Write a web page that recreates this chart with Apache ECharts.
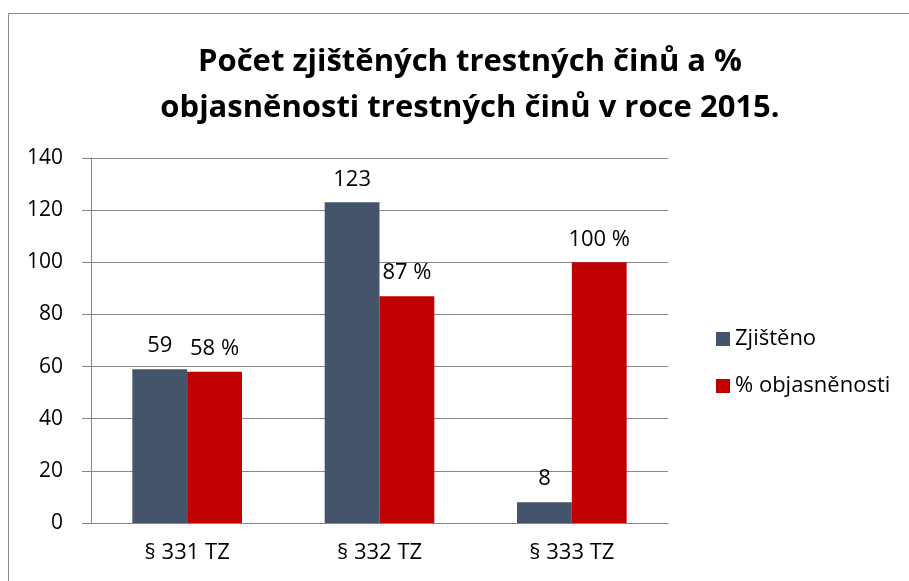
<!DOCTYPE html>
<html>
<head>
<meta charset="utf-8">
<script src="https://cdn.jsdelivr.net/npm/echarts@6/dist/echarts.min.js"></script>
<style>
  html, body { margin: 0; padding: 0; background: #fff; }
  #chart { width: 909px; height: 581px; }
</style>
</head>
<body>
<div id="chart"></div>
<script>
// data
const categories = ["§ 331 TZ", "§ 332 TZ", "§ 333 TZ"];
const zjisteno = [59, 123, 8];
const objasnenost = [58, 87, 100];
const yTicks = { min: 0, max: 140, interval: 20 };

const font = "'Open Sans', 'Liberation Sans', sans-serif";
var chart = echarts.init(document.getElementById("chart"));

chart.setOption({
    animation: false,
    title: {
        text: "Počet zjištěných trestných činů a %\nobjasněnosti trestných činů v roce 2015.",
        left: 465,
        textAlign: "center",
        top: 34,
        textStyle: {
            fontFamily: font,
            fontSize: 31,
            fontWeight: "bold",
            color: "#000",
            lineHeight: 46
        }
    },
    graphic: [{
        type: "rect",
        shape: { x: 8.5, y: 13.5, width: 1000, height: 1000 },
        style: { fill: "none", stroke: "#868686", lineWidth: 1 },
        silent: true
    }],
    legend: {
        orient: "vertical",
        left: 711,
        top: 323,
        itemWidth: 14,
        itemHeight: 14,
        itemGap: 25,
        icon: "rect",
        textStyle: { fontFamily: font, fontSize: 22, color: "#000" },
        data: ["Zjištěno", "% objasněnosti"]
    },
    grid: { left: 91, right: 241, top: 158, bottom: 58 },
    xAxis: {
        type: "category",
        data: categories,
        axisLine: { lineStyle: { color: "#868686" } },
        axisTick: { length: 9, lineStyle: { color: "#868686" } },
        axisLabel: { fontFamily: font, fontSize: 22, color: "#000", margin: 19 }
    },
    yAxis: {
        type: "value",
        min: yTicks.min,
        max: yTicks.max,
        interval: yTicks.interval,
        axisLine: { show: true, lineStyle: { color: "#868686" } },
        axisTick: { show: true, length: 9, lineStyle: { color: "#868686" } },
        splitLine: { lineStyle: { color: "#868686" } },
        axisLabel: { fontFamily: font, fontSize: 21, color: "#000", margin: 28 }
    },
    series: [
        {
            name: "Zjištěno",
            type: "bar",
            data: zjisteno,
            barGap: "0%",
            barCategoryGap: "43%",
            itemStyle: { color: "#44546A" },
            label: {
                show: true,
                position: "top",
                distance: 12,
                fontFamily: font,
                fontSize: 22,
                color: "#000"
            }
        },
        {
            name: "% objasněnosti",
            type: "bar",
            data: objasnenost,
            itemStyle: { color: "#C00000" },
            label: {
                show: true,
                position: "top",
                distance: 12,
                fontFamily: font,
                fontSize: 22,
                color: "#000",
                formatter: "{c} %"
            }
        }
    ]
});
</script>
</body>
</html>
